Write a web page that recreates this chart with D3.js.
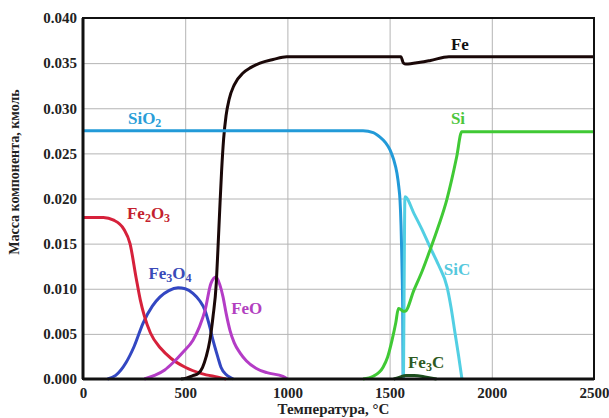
<!DOCTYPE html>
<html>
<head>
<meta charset="utf-8">
<script src="https://cdn.jsdelivr.net/npm/d3@7"></script>
<style>
  body { margin: 0; background: #fff; }
  text { font-family: "Liberation Serif", "DejaVu Serif", serif; font-weight: bold; }
</style>
</head>
<body>
<svg id="chart"></svg>
<script>
// series: temperature (°C) and amount (kmol)
var tFe2O3 = [0, 100, 150, 200, 230, 260, 280, 300, 330, 380, 430, 500, 580, 660, 700];
var vFe2O3 = [0.0179, 0.0179, 0.0176, 0.0166, 0.0150, 0.0112, 0.0088, 0.0070, 0.0051, 0.0034, 0.0023, 0.0013, 0.0006, 0.0002, 0.0];

var tFe3O4 = [120, 160, 210, 250, 294, 340, 377, 420, 465, 500, 538, 570, 597, 620, 636, 660, 675, 700, 719, 735];
var vFe3O4 = [0, 0.0004, 0.0018, 0.0036, 0.0062, 0.0081, 0.0091, 0.0098, 0.0101, 0.0100, 0.0095, 0.0087, 0.0076, 0.0058, 0.0043, 0.0024, 0.0013, 0.0005, 0.0002, 0];

var tFeO = [300, 350, 400, 440, 490, 538, 570, 597, 626, 651, 670, 685, 700, 719, 740, 768, 800, 846, 900, 978, 1000];
var vFeO = [0, 0.0004, 0.0010, 0.0018, 0.0030, 0.0043, 0.0058, 0.0076, 0.0106, 0.0113, 0.0104, 0.0091, 0.0073, 0.0054, 0.0040, 0.0029, 0.0020, 0.0012, 0.0007, 0.0003, 0];

var tFe = [480, 505, 540, 563, 585, 603, 620, 636, 652, 660, 669, 678, 688, 700, 715, 740, 783, 820, 866, 930, 997, 1200, 1400, 1555, 1568, 1580, 1650, 1700, 1790, 2000, 2500];
var vFe = [0, 0.0001, 0.0004, 0.0006, 0.0013, 0.0025, 0.0042, 0.0069, 0.0106, 0.0143, 0.0188, 0.0230, 0.0266, 0.0292, 0.0310, 0.0326, 0.0339, 0.0345, 0.0350, 0.0354, 0.0357, 0.0357, 0.0357, 0.0357, 0.0350, 0.0349, 0.0351, 0.0353, 0.0357, 0.0357, 0.0357];

var tSiO2 = [0, 1370, 1420, 1453, 1480, 1502, 1520, 1536, 1545, 1551, 1556, 1559, 1562, 1564, 1566];
var vSiO2 = [0.0275, 0.0275, 0.0273, 0.0268, 0.0262, 0.0254, 0.0243, 0.0228, 0.0213, 0.0198, 0.0170, 0.0143, 0.0110, 0.0080, 0];

var tSiC = [1568, 1571, 1575, 1620, 1660, 1698, 1740, 1781, 1800, 1820, 1838, 1854];
var vSiC = [0, 0.0100, 0.0202, 0.0183, 0.0165, 0.0146, 0.0126, 0.0102, 0.0080, 0.0051, 0.0025, 0];

var tSi = [1370, 1420, 1468, 1490, 1512, 1530, 1543, 1555, 1567, 1575, 1620, 1660, 1698, 1740, 1779, 1805, 1828, 1853, 2500];
var vSi = [0, 0.0003, 0.0013, 0.0024, 0.0043, 0.0062, 0.0078, 0.0077, 0.0075, 0.0075, 0.0099, 0.0120, 0.0143, 0.0170, 0.0198, 0.0222, 0.0246, 0.0274, 0.0274];

var tFe3C = [1520, 1550, 1580, 1620, 1680, 1730];
var vFe3C = [0, 0.0002, 0.0004, 0.0004, 0.0002, 0];

var xTicks = [0, 500, 1000, 1500, 2000, 2500];
var yTicks = [0, 0.005, 0.010, 0.015, 0.020, 0.025, 0.030, 0.035, 0.040];

var svgWidth = 609, svgHeight = 418;
var margin = {left: 83, right: 15, top: 18, bottom: 39};
var w = svgWidth - margin.left - margin.right;
var h = svgHeight - margin.top - margin.bottom;

var svg = d3.select("#chart")
    .attr("width", svgWidth)
    .attr("height", svgHeight);

var g = svg.append("g")
    .attr("transform", "translate(" + margin.left + "," + margin.top + ")");

var x = d3.scaleLinear().domain([0, 2500]).range([0, w]);
var y = d3.scaleLinear().domain([0, 0.040]).range([h, 0]);

// grid
g.append("g")
    .attr("transform", "translate(0," + h + ")")
    .call(d3.axisBottom(x).tickValues(xTicks).tickSize(-h).tickFormat(""))
    .call(function (s) { s.select(".domain").remove(); })
    .selectAll("line").attr("stroke", "#b4b4b4").attr("stroke-width", 1);

g.append("g")
    .call(d3.axisLeft(y).tickValues(yTicks).tickSize(-w).tickFormat(""))
    .call(function (s) { s.select(".domain").remove(); })
    .selectAll("line").attr("stroke", "#b4b4b4").attr("stroke-width", 1);

// tick labels
var xAx = g.append("g")
    .attr("transform", "translate(0," + h + ")")
    .call(d3.axisBottom(x).tickValues(xTicks).tickSize(0).tickPadding(8).tickFormat(d3.format("d")));
xAx.select(".domain").remove();
xAx.selectAll("text").attr("font-size", 15).attr("fill", "#222")
    .style("font-family", "'Liberation Serif', serif").style("font-weight", "bold");

var yAx = g.append("g")
    .call(d3.axisLeft(y).tickValues(yTicks).tickSize(0).tickPadding(6).tickFormat(d3.format(".3f")));
yAx.select(".domain").remove();
yAx.selectAll("text").attr("font-size", 15).attr("fill", "#222")
    .style("font-family", "'Liberation Serif', serif").style("font-weight", "bold");

// curves
var series = [
    {t: tFe3O4, v: vFe3O4, color: "#3347c2"},
    {t: tFe2O3, v: vFe2O3, color: "#d6213b"},
    {t: tFeO, v: vFeO, color: "#b43cc6"},
    {t: tFe, v: vFe, color: "#1a0808"},
    {t: tSiO2, v: vSiO2, color: "#229ad8"},
    {t: tSiC, v: vSiC, color: "#52cfe3"},
    {t: tSi, v: vSi, color: "#40c935"},
    {t: tFe3C, v: vFe3C, color: "#1d4f1d"}
];

var line = d3.line()
    .x(function (d) { return x(d[0]); })
    .y(function (d) { return y(d[1]); })
    .curve(d3.curveMonotoneX);

series.forEach(function (s) {
    g.append("path")
        .datum(d3.zip(s.t, s.v))
        .attr("fill", "none")
        .attr("stroke", s.color)
        .attr("stroke-width", 3)
        .attr("stroke-linejoin", "round")
        .attr("d", line);
});

// frame
g.append("rect")
    .attr("width", w).attr("height", h)
    .attr("fill", "none").attr("stroke", "#111").attr("stroke-width", 2);
g.append("line").attr("x1", 0).attr("x2", 0).attr("y1", 0).attr("y2", h)
    .attr("stroke", "#111").attr("stroke-width", 3);
g.append("line").attr("x1", 0).attr("x2", w).attr("y1", h).attr("y2", h)
    .attr("stroke", "#111").attr("stroke-width", 3);

// series labels: [main, subscript, main, subscript], T, value, colour
var labels = [
    {parts: ["Fe"], t: 1800, v: 0.0364, color: "#111"},
    {parts: ["Si"], t: 1800, v: 0.0282, color: "#4cc63c"},
    {parts: ["SiO", "2"], t: 220, v: 0.0282, color: "#2a9ed8"},
    {parts: ["Fe", "2", "O", "3"], t: 215, v: 0.0177, color: "#c41f2f"},
    {parts: ["Fe", "3", "O", "4"], t: 320, v: 0.0111, color: "#3a4ab8"},
    {parts: ["FeO"], t: 725, v: 0.0072, color: "#b23fc0"},
    {parts: ["SiC"], t: 1765, v: 0.0115, color: "#55c8dd"},
    {parts: ["Fe", "3", "C"], t: 1590, v: 0.0012, color: "#2e5a22"}
];

labels.forEach(function (l) {
    var txt = g.append("text")
        .attr("x", x(l.t))
        .attr("y", y(l.v))
        .attr("font-size", 17)
        .attr("fill", l.color);
    l.parts.forEach(function (p, i) {
        var sub = i % 2 === 1;
        txt.append("tspan")
            .attr("font-size", sub ? 12 : 17)
            .attr("dy", sub ? 3 : (i > 0 ? -3 : 0))
            .text(p);
    });
});

// axis titles
svg.append("text")
    .attr("x", margin.left + w / 2 - 5)
    .attr("y", 414)
    .attr("text-anchor", "middle")
    .attr("font-size", 15)
    .attr("fill", "#222")
    .text("Температура, °С");

svg.append("text")
    .attr("transform", "translate(19,172) rotate(-90)")
    .attr("text-anchor", "middle")
    .attr("font-size", 14)
    .attr("fill", "#222")
    .text("Масса компонента, кмоль");
</script>
</body>
</html>
